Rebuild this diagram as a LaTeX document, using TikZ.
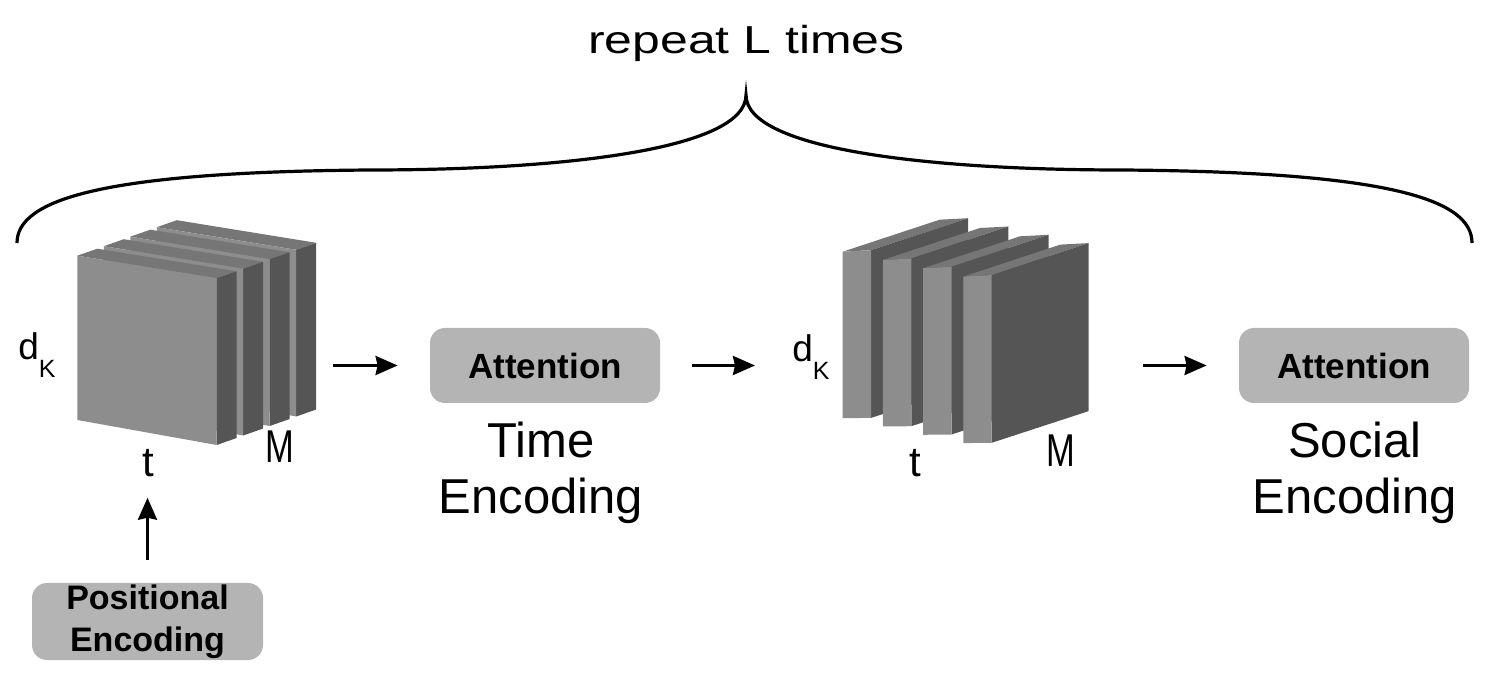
\documentclass[tikz,border=0pt]{standalone}
\usepackage{fontspec}
\usepackage{graphicx}
\setmainfont{Liberation Sans}
\usetikzlibrary{arrows.meta}
\definecolor{frontc}{HTML}{8D8D8D}
\definecolor{sidec}{HTML}{555555}
\definecolor{topc}{HTML}{767676}
\definecolor{boxc}{HTML}{B4B4B4}
\begin{document}
\begin{tikzpicture}[x=0.5pt,y=-0.5pt,
  attbox/.style={fill=boxc, rounded corners=7.5pt, inner sep=0pt, minimum width=115pt, minimum height=37.5pt, font=\fontsize{17.5}{21}\selectfont\bfseries},
  posbox/.style={fill=boxc, rounded corners=7.5pt, inner sep=0pt, minimum width=115.5pt, minimum height=38.5pt, align=center, font=\fontsize{17}{21}\selectfont\bfseries},
  caption/.style={inner sep=0pt, align=center, anchor=north, font=\fontsize{24.5}{28}\selectfont},
  lbl/.style={inner sep=0pt},
  ghost/.style={inner sep=0pt, draw=none},
  arr/.style={line width=1.5pt, -{Stealth[length=11pt,width=9.5pt,inset=1pt]}},
  bracepath/.style={line width=1.6pt}
]
\useasboundingbox (0,0) rectangle (1500,689);

% ---------- stack A (slabs along M) ----------
\foreach \k in {3,2,1,0}{
  \pgfmathsetmacro\ox{77.3+\k*26.5}
  \pgfmathsetmacro\oy{255.7-\k*9.5}
  \begin{scope}[shift={(\ox,\oy)}]
    \fill[topc] (0,0) -- (20,-7) -- (159.4,15.6) -- (139.4,22.6) -- cycle;
    \fill[sidec] (139.4,22.6) -- (159.4,15.6) -- (159.4,182.3) -- (139.4,189.3) -- cycle;
    \fill[frontc] (0,0) -- (139.4,22.6) -- (139.4,189.3) -- (0,164.3) -- cycle;
  \end{scope}
}
\node[ghost, minimum width=119.5pt, minimum height=116pt] (stackA) at (196.5,332) {};

% ---------- stack B (slabs along t) ----------
\foreach \k in {0,1,2,3}{
  \pgfmathsetmacro\ox{842.7+\k*40.2}
  \pgfmathsetmacro\oy{251.7+\k*8.3}
  \begin{scope}[shift={(\ox,\oy)}]
    \fill[topc] (0,0) -- (97,-32) -- (125.4,-33.5) -- (28.4,-1.5) -- cycle;
    \fill[sidec] (28.4,-1.5) -- (125.4,-33.5) -- (125.4,134.5) -- (28.4,166.2) -- cycle;
    \fill[frontc] (0,0) -- (28.4,-1.5) -- (28.4,166.2) -- (0,166.5) -- cycle;
  \end{scope}
}
\node[ghost, minimum width=122.5pt, minimum height=112pt] (stackB) at (965.5,331) {};

% ---------- stack labels ----------
\node[lbl, anchor=base west] (dkA) at (18,360) {\fontsize{18.5}{20}\selectfont d\raisebox{-9pt}{\fontsize{12.5}{14}\selectfont K}};
\node[lbl, anchor=base] (tA) at (148,477) {\fontsize{21}{24}\selectfont t};
\node[lbl, anchor=base] (mA) at (280,463) {\fontsize{23}{26}\selectfont\scalebox{0.75}[1]{M}};
\node[lbl, anchor=base west] (dkB) at (792,362) {\fontsize{18.5}{20}\selectfont d\raisebox{-9pt}{\fontsize{12.5}{14}\selectfont K}};
\node[lbl, anchor=base] (tB) at (915,477) {\fontsize{21}{24}\selectfont t};
\node[lbl, anchor=base] (mB) at (1061,467) {\fontsize{23}{26}\selectfont\scalebox{0.75}[1]{M}};

% ---------- attention boxes ----------
\node[attbox] (att1) at (545,365.5) {Attention};
\node[attbox] (att2) at (1354,365.5) {Attention};
\node[caption] (cap1) at (541,422) {Time\\Encoding};
\node[caption] (cap2) at (1355,422) {Social\\Encoding};

% ---------- positional encoding ----------
\node[posbox] (pos) at (147.5,621.5) {Positional\\Encoding};

% ---------- arrows ----------
\draw[arr, shorten <=8.5pt, shorten >=16pt] (stackA.east |- att1.west) -- (att1.west);
\draw[arr, shorten <=16pt, shorten >=18.5pt] (att1.east) -- (dkB.west |- att1.east);
\draw[arr, shorten <=27.5pt, shorten >=16pt] (stackB.east |- att2.west) -- (att2.west);
\draw[arr, shorten <=11.5pt, shorten >=10pt] (pos.north) -- (pos.north |- tA.south);

% ---------- brace and title ----------
\draw[bracepath] (17,243) .. controls (17,200) and (100,172) .. (370,170)
  .. controls (560,170) and (746,150) .. (746,95)
  .. controls (746,150) and (932,170) .. (1122,170)
  .. controls (1392,172) and (1472,200) .. (1472,243);
\node[lbl, anchor=base] (title) at (746.5,54) {\fontsize{19.5}{22}\selectfont\scalebox{1.28}[1]{repeat L times}};
\end{tikzpicture}
\end{document}
